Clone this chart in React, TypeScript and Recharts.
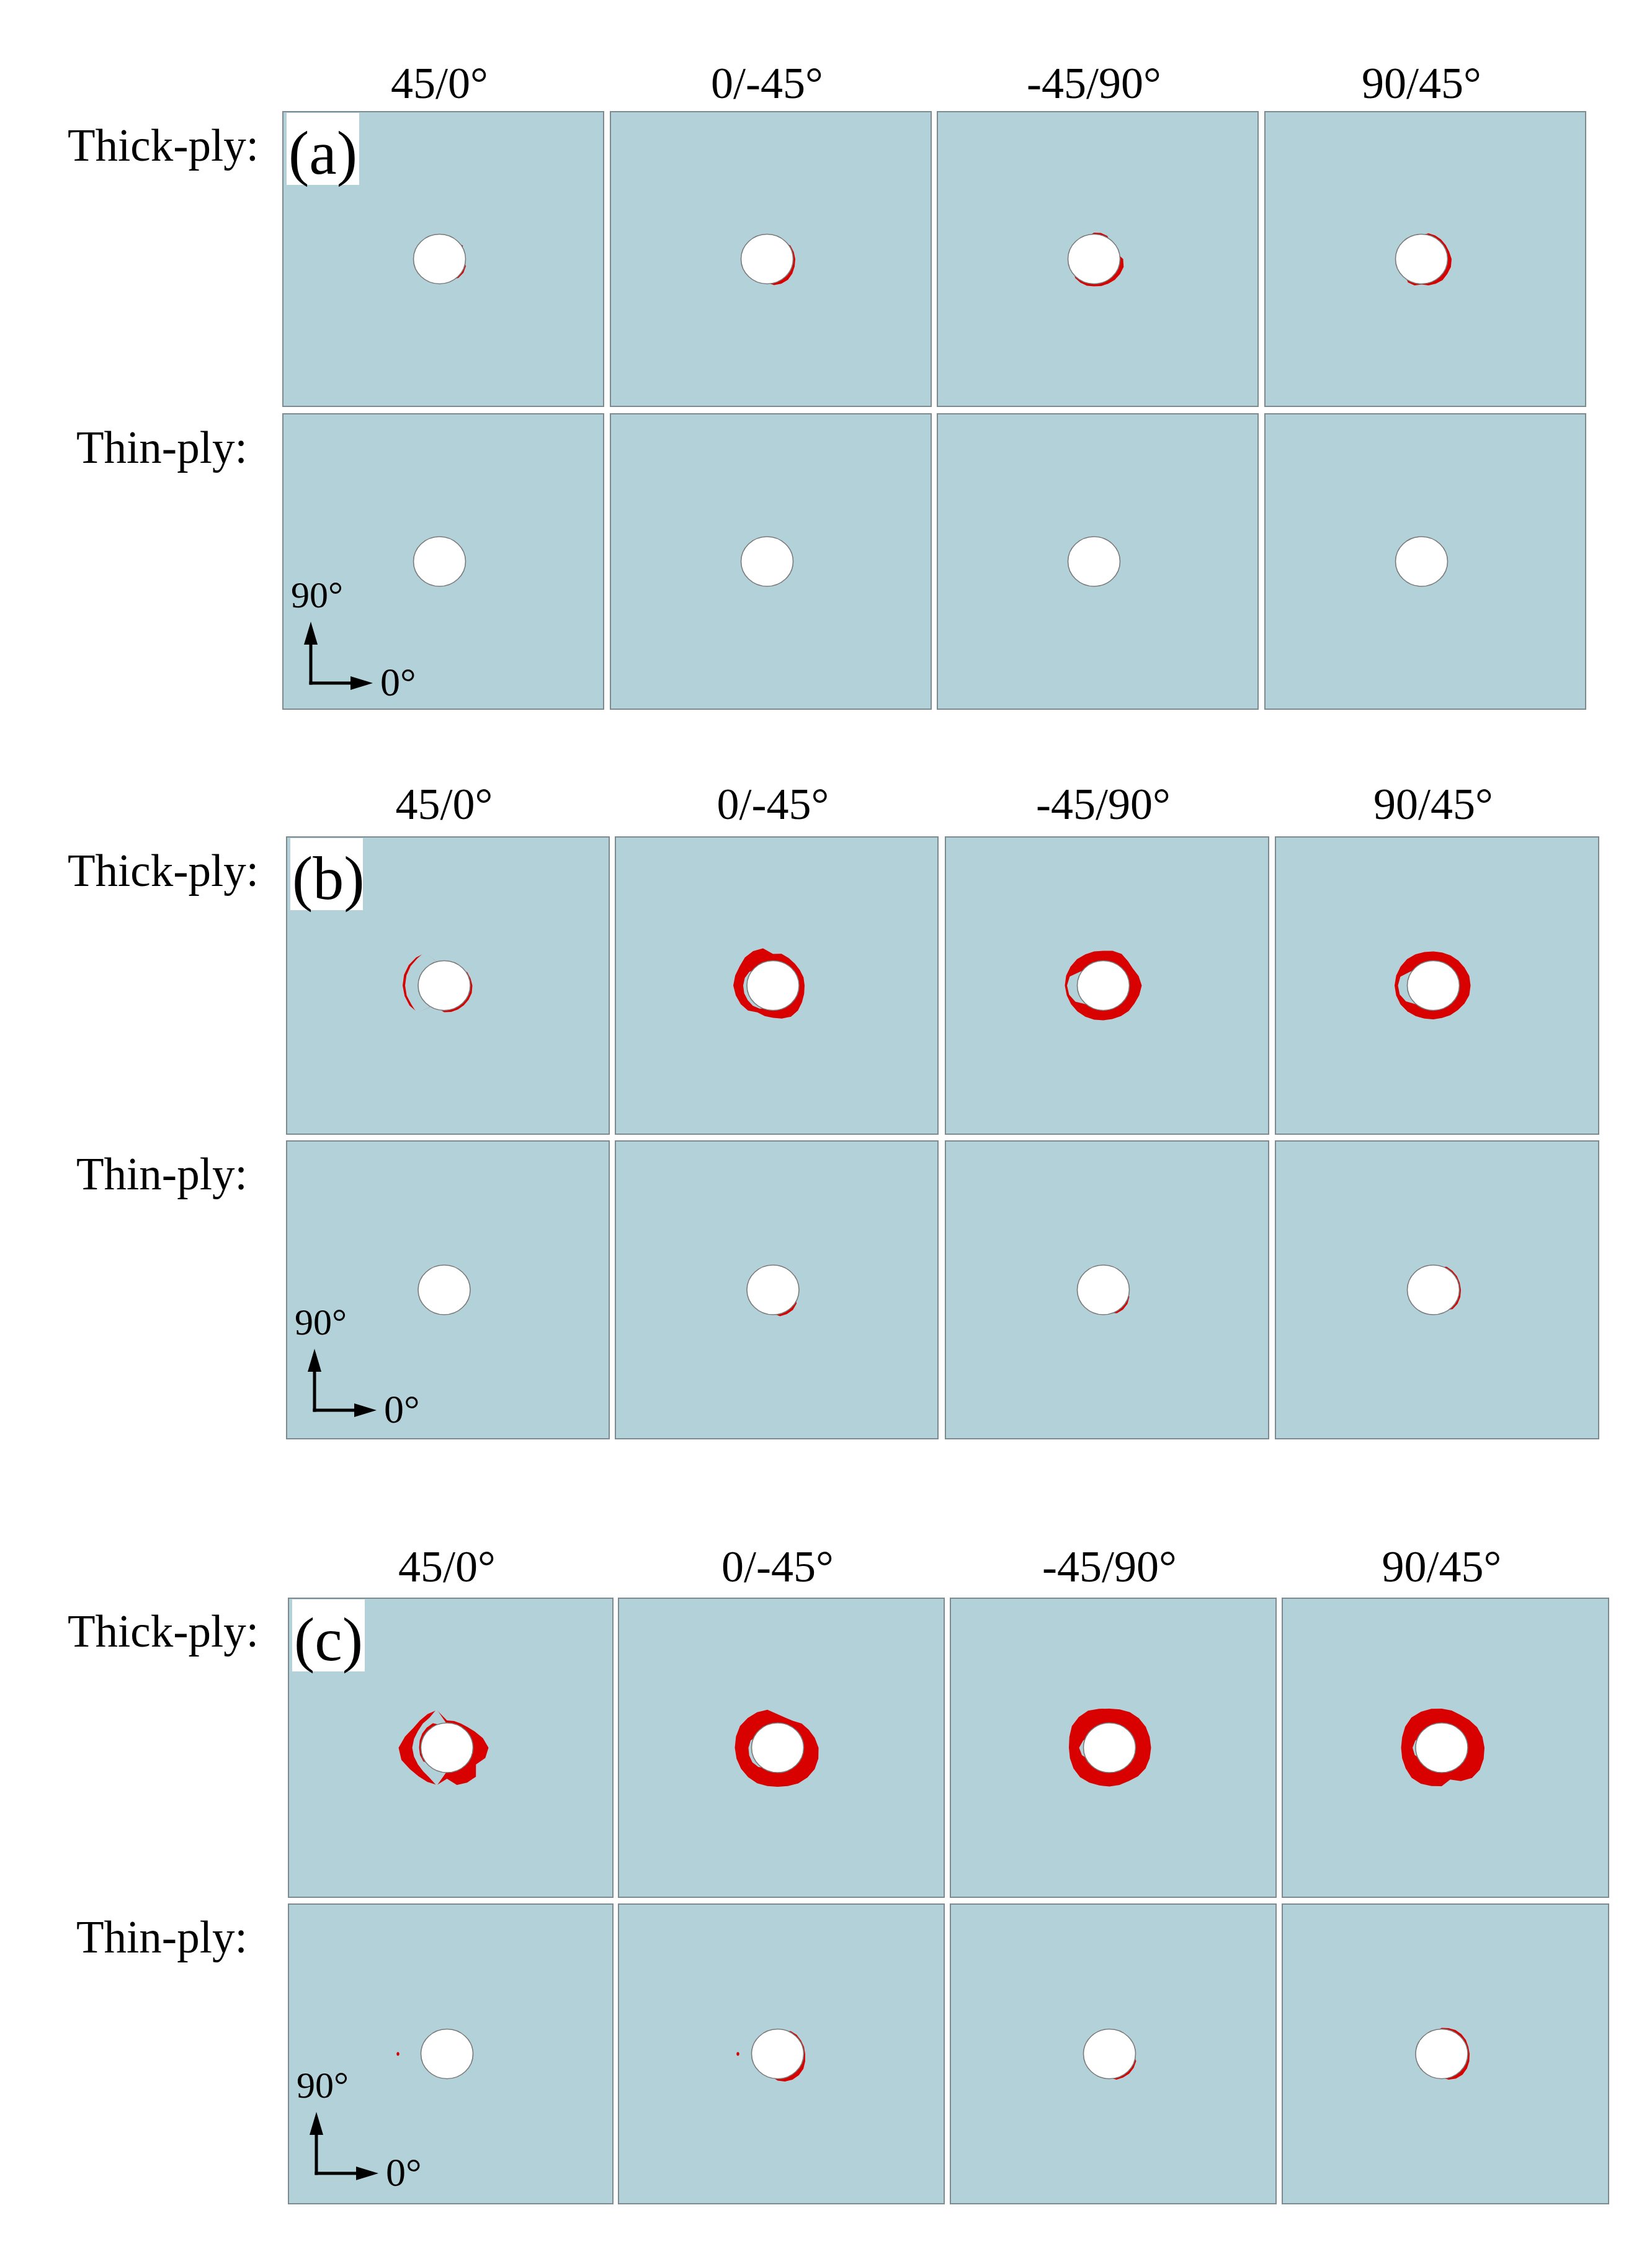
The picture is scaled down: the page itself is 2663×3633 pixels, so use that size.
import React from 'react';
import { RadarChart, Radar, PolarAngleAxis, PolarRadiusAxis } from 'recharts';

// ---------- data ----------
// angles (deg, counter-clockwise from the 0° direction) at which damage radii are read
const ANGLES = [0, 15, 30, 45, 60, 75, 90, 105, 120, 135, 150, 165, 180, 195, 210, 225, 240, 255, 270, 285, 300, 315, 330, 345];
const LAYUPS = ['45/0°', '0/-45°', '-45/90°', '90/45°'];
const PLY_ROWS = ['Thick-ply:', 'Thin-ply:'];
const CASE_TAGS = ['(a)', '(b)', '(c)'];
const NONE = 38; // radius hidden inside the hole = no damage at that angle

type Sparse = Record<number, number>;
type Damage = { outer?: Sparse; gap?: Sparse; inner?: Sparse; spot?: Sparse };

// damage radii (px from hole centre) — outer red boundary, undamaged gap, inner red, isolated spots
const A_THICK: Damage[] = [
  { outer: { 30: 43.5, 345: 44, 330: 44.5, 315: 43 } },
  { outer: { 30: 43.5, 15: 44.5, 0: 45.5, 345: 46, 330: 47, 315: 47.5, 300: 46, 285: 43.5 } },
  { outer: { 90: 42.5, 75: 43.5, 60: 43, 0: 47, 345: 49.5, 330: 48.5, 315: 47.5, 300: 46, 285: 45, 270: 44, 255: 44.5, 240: 44, 225: 43 } },
  { outer: { 75: 43, 60: 44, 45: 44.5, 30: 45, 15: 46, 0: 48.5, 345: 49, 330: 48, 315: 48, 300: 46, 285: 44, 270: 41, 255: 44, 240: 43.5 } },
];
const A_THIN: Damage[] = [{}, {}, {}, {}];

const B_THICK: Damage[] = [
  {
    outer: { 120: 61, 135: 64, 150: 66, 165: 67, 180: 67, 195: 66, 210: 64.5, 225: 61, 30: 43, 15: 44, 0: 45.5, 345: 46, 330: 45.5, 315: 45, 300: 44.5, 285: 44, 270: 43 },
    gap: { 120: 62.5, 135: 61.5, 150: 62.5, 165: 63, 180: 63, 195: 62.5, 210: 61, 225: 62.5 },
  },
  {
    outer: { 0: 51, 15: 51, 30: 50, 45: 50, 60: 51, 75: 53, 90: 51, 105: 62, 120: 64, 135: 64, 150: 62, 165: 63, 180: 64, 195: 62, 210: 60, 225: 57, 240: 50, 255: 51, 270: 52, 285: 55, 300: 58, 315: 57, 330: 54, 345: 52 },
    gap: { 150: 44, 165: 47, 180: 48, 195: 48, 210: 47, 225: 46, 240: 43 },
  },
  {
    outer: { 0: 62, 15: 59, 30: 55, 45: 56, 60: 59, 75: 58, 90: 56, 105: 57, 120: 58, 135: 60, 150: 61, 165: 62, 180: 62, 195: 61, 210: 60, 225: 59, 240: 58, 255: 57, 270: 56, 285: 56, 300: 57, 315: 58, 330: 58, 345: 60 },
    gap: { 150: 44, 165: 56, 180: 58.5, 195: 57, 210: 52, 225: 42 },
  },
  {
    outer: { 0: 60, 15: 60, 30: 58, 45: 57, 60: 56, 75: 55, 90: 55, 105: 56, 120: 58, 135: 60, 150: 61, 165: 62, 180: 62.5, 195: 62, 210: 61, 225: 59, 240: 57, 255: 55, 270: 54.5, 285: 54, 300: 55, 315: 56, 330: 58, 345: 60 },
    gap: { 150: 44, 165: 55, 180: 57, 195: 56, 210: 51, 225: 42 },
  },
];
const B_THIN: Damage[] = [
  {},
  { outer: { 330: 44, 315: 45.5, 300: 45, 285: 44 } },
  { outer: { 345: 43.5, 330: 45, 315: 45, 300: 43.5 } },
  { outer: { 60: 43, 45: 43.5, 30: 44, 15: 44, 0: 44.5, 345: 45, 330: 45, 315: 44 } },
];

const C_THICK: Damage[] = [
  {
    outer: { 0: 67, 15: 60, 30: 52, 45: 47, 60: 45, 75: 44.5, 90: 44, 105: 63, 120: 62.5, 135: 62, 150: 63, 165: 70, 180: 78, 195: 76, 210: 69, 225: 65, 240: 63.5, 255: 62, 270: 50, 285: 62, 300: 65, 315: 66, 330: 54, 345: 64 },
    gap: { 105: 64.5, 120: 56, 135: 55, 150: 54, 165: 55, 180: 56, 195: 55, 210: 54, 225: 54, 240: 56, 255: 63.5 },
    inner: { 120: 45.5, 135: 46, 150: 46, 165: 45.5, 180: 45, 195: 45, 210: 44 },
  },
  {
    outer: { 0: 66, 15: 62, 30: 58, 45: 55, 60: 50, 75: 50, 90: 54, 105: 63.5, 120: 66, 135: 68, 150: 70, 165: 69.5, 180: 69, 195: 68.5, 210: 68, 225: 67, 240: 66, 255: 64, 270: 63, 285: 64, 300: 66.5, 315: 68, 330: 69, 345: 68 },
    gap: { 165: 45, 180: 47, 195: 47.5, 210: 47, 225: 44 },
  },
  {
    outer: { 0: 67, 15: 67, 30: 67.5, 45: 67, 60: 66, 75: 64, 90: 63, 105: 65, 120: 69, 135: 70, 150: 70, 165: 67, 180: 65.5, 195: 66, 210: 67, 225: 67, 240: 65, 255: 63, 270: 62.5, 285: 62, 300: 62, 315: 65, 330: 67, 345: 67 },
    gap: { 165: 44, 180: 49, 195: 46 },
  },
  {
    outer: { 0: 69, 15: 68, 30: 66, 45: 63, 60: 61, 75: 62, 90: 63, 105: 65, 120: 67, 135: 69, 150: 68, 165: 66, 180: 65.5, 195: 66, 210: 67, 225: 68.5, 240: 67, 255: 64, 270: 62, 285: 53, 300: 62, 315: 69, 330: 71, 345: 70 },
    gap: { 165: 44, 180: 47, 195: 45 },
  },
];
const C_THIN: Damage[] = [
  { spot: { 180: 79 } },
  { outer: { 60: 42.5, 45: 43.5, 30: 43.5, 15: 44, 0: 44.5, 345: 46, 330: 48, 315: 48.5, 300: 48, 285: 46, 270: 43 }, spot: { 180: 64 } },
  { outer: { 345: 44.5, 330: 45, 315: 45, 300: 44, 285: 43 } },
  { outer: { 90: 42, 75: 43, 60: 44.5, 45: 45, 30: 45, 15: 44.5, 0: 45, 345: 46, 330: 47, 315: 47.5, 300: 46, 285: 43 } },
];

const DAMAGE = [
  [A_THICK, A_THIN],
  [B_THICK, B_THIN],
  [C_THICK, C_THIN],
];

// ---------- layout ----------
const LAYOUT = [
  { cols: [[455, 974], [983, 1502], [1510, 2029], [2038, 2557]], rows: [[179, 656], [666, 1144]], headerY: 158, labelY: [259, 746] },
  { cols: [[461, 983], [991, 1513], [1523, 2046], [2055, 2578]], rows: [[1348, 1829], [1838, 2320]], headerY: 1320, labelY: [1428, 1917] },
  { cols: [[464, 989], [996, 1523], [1531, 2058], [2066, 2594]], rows: [[2575, 3059], [3068, 3553]], headerY: 2549, labelY: [2654, 3147] },
];

const PANEL = '#b3d1d9';
const RED = '#d90000';
const BORDER = '#7d8b90';
const FONT = "'Liberation Serif', 'Times New Roman', serif";
const HOLE_DX = -6;

const SpotShape = (props: any) => {
  const pts = props.points || [];
  return (
    <g>
      {pts
        .filter((p: any) => p.payload && p.payload.spot > 0)
        .map((p: any, i: number) => (
          <ellipse key={i} cx={p.x} cy={p.y} rx={2.2} ry={3} fill={RED} />
        ))}
    </g>
  );
};

function Panel({ x0, x1, y0, y1, damage }: { x0: number; x1: number; y0: number; y1: number; damage: Damage }) {
  const w = x1 - x0;
  const h = y1 - y0;
  const iw = w - 4;
  const ih = h - 4;
  const hx = w / 2 + HOLE_DX - 2;
  const hy = h / 2 - 2;
  const data = ANGLES.map((a) => ({
    angle: a,
    outer: damage.outer?.[a] ?? NONE,
    gap: damage.gap?.[a] ?? NONE,
    inner: damage.inner?.[a] ?? NONE,
    spot: damage.spot?.[a] ?? 0,
  }));
  return (
    <div
      style={{
        position: 'absolute',
        left: x0,
        top: y0,
        width: w,
        height: h,
        boxSizing: 'border-box',
        border: `2px solid ${BORDER}`,
        background: PANEL,
      }}
    >
      <RadarChart
        width={iw}
        height={ih}
        data={data}
        cx={hx}
        cy={hy}
        outerRadius={100}
        startAngle={0}
        endAngle={360}
        margin={{ top: 0, right: 0, bottom: 0, left: 0 }}
      >
        <PolarAngleAxis dataKey="angle" type="number" domain={[0, 360]} tick={false} axisLine={false} tickLine={false} />
        <PolarRadiusAxis domain={[0, 100]} tick={false} axisLine={false} tickLine={false} />
        <Radar dataKey="outer" fill={RED} fillOpacity={1} stroke="none" dot={false} isAnimationActive={false} />
        <Radar dataKey="gap" fill={PANEL} fillOpacity={1} stroke="none" dot={false} isAnimationActive={false} />
        <Radar dataKey="inner" fill={RED} fillOpacity={1} stroke="none" dot={false} isAnimationActive={false} />
        <Radar dataKey="spot" shape={SpotShape} dot={false} isAnimationActive={false} />
      </RadarChart>
      <svg style={{ position: 'absolute', left: 0, top: 0 }} width={iw} height={ih}>
        <ellipse cx={hx} cy={hy} rx={42} ry={40} fill="#ffffff" stroke="#7a7a7a" strokeWidth={1.6} />
      </svg>
    </div>
  );
}

function Compass({ L, T }: { L: number; T: number }) {
  const vx = L + 46;
  const cy = T + 435;
  const tipY = T + 336;
  const tipX = L + 146;
  return (
    <g>
      <line x1={vx} y1={cy + 2.5} x2={vx} y2={tipY + 34} stroke="#000" strokeWidth={5} />
      <polygon points={`${vx},${tipY} ${vx - 11},${tipY + 37} ${vx + 11},${tipY + 37}`} fill="#000" />
      <line x1={vx - 2.5} y1={cy} x2={tipX - 34} y2={cy} stroke="#000" strokeWidth={5} />
      <polygon points={`${tipX},${cy} ${tipX - 36},${cy - 11} ${tipX - 36},${cy + 11}`} fill="#000" />
      <text x={L + 14} y={T + 313} fontSize={60} fontFamily={FONT} fill="#000">90°</text>
      <text x={L + 158} y={T + 455} fontSize={64} fontFamily={FONT} fill="#000">0°</text>
    </g>
  );
}

export default function App() {
  return (
    <div style={{ position: 'absolute', left: 0, top: 0, width: 2663, height: 3633, background: '#ffffff', overflow: 'hidden' }}>
      {LAYOUT.map((sec, si) =>
        sec.rows.map((row, ri) =>
          sec.cols.map((col, ci) => (
            <Panel
              key={`${si}-${ri}-${ci}`}
              x0={col[0]}
              x1={col[1]}
              y0={row[0]}
              y1={row[1]}
              damage={DAMAGE[si][ri][ci]}
            />
          ))
        )
      )}
      <svg
        width={2663}
        height={3633}
        style={{ position: 'absolute', left: 0, top: 0, pointerEvents: 'none' }}
      >
        {LAYOUT.map((sec, si) => (
          <g key={si}>
            {sec.cols.map((col, ci) => (
              <text
                key={ci}
                x={(col[0] + col[1]) / 2 + HOLE_DX}
                y={sec.headerY}
                fontSize={72}
                fontFamily={FONT}
                textAnchor="middle"
                fill="#000"
              >
                {LAYUPS[ci]}
              </text>
            ))}
            {PLY_ROWS.map((lab, ri) => (
              <text key={lab} x={ri === 0 ? 109 : 123} y={sec.labelY[ri]} fontSize={73} fontFamily={FONT} fill="#000">
                {lab}
              </text>
            ))}
            <rect x={sec.cols[0][0] + 7} y={sec.rows[0][0] + 3} width={117} height={116} fill="#ffffff" />
            <text x={sec.cols[0][0] + 10} y={sec.rows[0][0] + 101} fontSize={100} fontFamily={FONT} fill="#000">
              {CASE_TAGS[si]}
            </text>
            <Compass L={sec.cols[0][0]} T={sec.rows[1][0]} />
          </g>
        ))}
      </svg>
    </div>
  );
}
